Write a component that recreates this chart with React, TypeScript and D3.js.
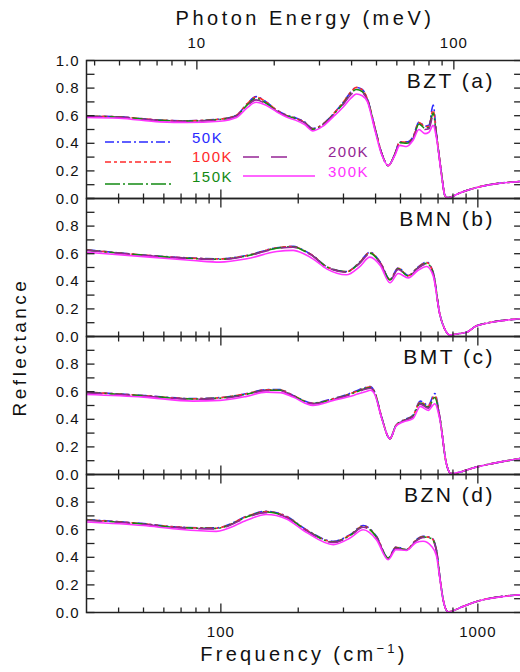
import React from 'react';
import * as d3 from 'd3';

// ---- data (frequency in cm^-1, reflectance 0..1) ----
const temps = ['50K', '100K', '150K', '200K', '300K'];
const tempColors = ['#2a2aff', '#ff2a2a', '#138a13', '#952595', '#ff33ff'];
const tempDash = ['9,3,2,3', '6,3,3,3', '15,3,2,3', '16,12', null];

const panelNames = ['BZT  (a)', 'BMN  (b)', 'BMT  (c)', 'BZN  (d)'];

const freqA = [30, 40, 58, 74, 99, 115, 127, 137, 150, 165, 180, 195, 212, 228, 250, 273, 300, 320, 337, 355, 372, 397, 422, 448, 475, 497, 528, 559, 590, 622, 645, 670, 690, 722, 745, 766, 850, 990, 1500];
const bzt50 = [0.597, 0.592, 0.568, 0.563, 0.575, 0.604, 0.69, 0.738, 0.70, 0.64, 0.604, 0.585, 0.555, 0.507, 0.54, 0.61, 0.70, 0.77, 0.805, 0.79, 0.72, 0.52, 0.33, 0.238, 0.32, 0.41, 0.41, 0.445, 0.555, 0.524, 0.53, 0.677, 0.47, 0.18, 0.02, 0.006, 0.04, 0.08, 0.125];
const bzt100 = [0.597, 0.592, 0.568, 0.563, 0.575, 0.604, 0.69, 0.735, 0.70, 0.64, 0.602, 0.582, 0.552, 0.505, 0.54, 0.61, 0.70, 0.77, 0.805, 0.788, 0.72, 0.52, 0.33, 0.238, 0.32, 0.41, 0.408, 0.44, 0.55, 0.52, 0.525, 0.64, 0.465, 0.18, 0.02, 0.006, 0.04, 0.08, 0.125];
const bzt150 = [0.595, 0.59, 0.566, 0.561, 0.572, 0.60, 0.68, 0.725, 0.69, 0.635, 0.60, 0.58, 0.55, 0.502, 0.535, 0.605, 0.69, 0.76, 0.79, 0.775, 0.715, 0.515, 0.33, 0.238, 0.32, 0.405, 0.40, 0.435, 0.54, 0.51, 0.515, 0.62, 0.46, 0.18, 0.02, 0.006, 0.04, 0.08, 0.125];
const bzt200 = [0.594, 0.589, 0.565, 0.56, 0.57, 0.598, 0.675, 0.715, 0.685, 0.632, 0.598, 0.578, 0.548, 0.50, 0.532, 0.60, 0.685, 0.75, 0.78, 0.768, 0.71, 0.51, 0.33, 0.238, 0.318, 0.40, 0.395, 0.43, 0.53, 0.50, 0.505, 0.60, 0.455, 0.18, 0.02, 0.006, 0.04, 0.08, 0.125];
const bzt300 = [0.587, 0.582, 0.555, 0.551, 0.56, 0.587, 0.66, 0.697, 0.675, 0.628, 0.59, 0.568, 0.535, 0.49, 0.525, 0.59, 0.665, 0.725, 0.757, 0.745, 0.70, 0.50, 0.32, 0.238, 0.31, 0.385, 0.377, 0.42, 0.50, 0.47, 0.48, 0.53, 0.44, 0.17, 0.02, 0.006, 0.04, 0.08, 0.125];

const freqB = [30, 53, 78, 99, 126, 165, 191, 210, 228, 258, 308, 347, 380, 417, 455, 490, 536, 584, 632, 670, 711, 745, 775, 850, 903, 990, 1500];
const bmn50 = [0.629, 0.587, 0.568, 0.563, 0.587, 0.643, 0.653, 0.625, 0.587, 0.507, 0.471, 0.539, 0.611, 0.539, 0.413, 0.498, 0.442, 0.502, 0.539, 0.466, 0.163, 0.05, 0.012, 0.022, 0.03, 0.078, 0.13];
const bmn100 = [0.628, 0.586, 0.567, 0.562, 0.586, 0.642, 0.652, 0.624, 0.586, 0.506, 0.47, 0.537, 0.608, 0.537, 0.412, 0.495, 0.44, 0.50, 0.535, 0.463, 0.163, 0.05, 0.012, 0.022, 0.03, 0.078, 0.13];
const bmn150 = [0.626, 0.585, 0.565, 0.56, 0.584, 0.64, 0.65, 0.622, 0.584, 0.504, 0.468, 0.534, 0.604, 0.534, 0.41, 0.49, 0.438, 0.497, 0.53, 0.46, 0.163, 0.05, 0.012, 0.022, 0.03, 0.078, 0.13];
const bmn200 = [0.625, 0.584, 0.564, 0.558, 0.582, 0.637, 0.647, 0.62, 0.582, 0.502, 0.466, 0.53, 0.60, 0.532, 0.408, 0.486, 0.436, 0.494, 0.526, 0.456, 0.162, 0.05, 0.012, 0.022, 0.03, 0.078, 0.13];
const bmn300 = [0.611, 0.575, 0.551, 0.539, 0.563, 0.616, 0.624, 0.60, 0.563, 0.49, 0.447, 0.507, 0.575, 0.514, 0.389, 0.456, 0.425, 0.478, 0.507, 0.44, 0.16, 0.05, 0.012, 0.022, 0.03, 0.078, 0.13];

const freqC = [30, 50, 78, 99, 126, 150, 170, 191, 228, 274, 328, 365, 382, 397, 422, 455, 480, 512, 559, 597, 641, 680, 711, 754, 786, 990, 1500];
const bmt50 = [0.597, 0.573, 0.55, 0.557, 0.586, 0.615, 0.615, 0.573, 0.518, 0.55, 0.597, 0.63, 0.638, 0.597, 0.417, 0.26, 0.356, 0.393, 0.429, 0.532, 0.501, 0.586, 0.417, 0.08, 0.007, 0.055, 0.12];
const bmt100 = [0.597, 0.572, 0.549, 0.556, 0.585, 0.614, 0.613, 0.572, 0.516, 0.548, 0.594, 0.627, 0.635, 0.595, 0.416, 0.26, 0.355, 0.391, 0.426, 0.525, 0.495, 0.572, 0.415, 0.08, 0.007, 0.055, 0.12];
const bmt150 = [0.595, 0.57, 0.547, 0.553, 0.582, 0.611, 0.61, 0.57, 0.514, 0.546, 0.59, 0.623, 0.63, 0.592, 0.415, 0.26, 0.354, 0.389, 0.422, 0.518, 0.488, 0.558, 0.413, 0.08, 0.007, 0.055, 0.12];
const bmt200 = [0.593, 0.568, 0.545, 0.55, 0.579, 0.608, 0.606, 0.568, 0.511, 0.544, 0.586, 0.618, 0.625, 0.589, 0.414, 0.26, 0.353, 0.387, 0.418, 0.51, 0.48, 0.545, 0.41, 0.08, 0.007, 0.055, 0.12];
const bmt300 = [0.58, 0.561, 0.532, 0.537, 0.566, 0.597, 0.593, 0.561, 0.501, 0.537, 0.573, 0.60, 0.61, 0.58, 0.41, 0.26, 0.35, 0.38, 0.405, 0.494, 0.465, 0.513, 0.40, 0.08, 0.007, 0.055, 0.12];

const freqD = [30, 50, 67, 96, 105, 126, 150, 180, 215, 274, 318, 358, 403, 448, 480, 528, 576, 612, 661, 690, 711, 733, 766, 876, 990, 1500];
const bzn50 = [0.673, 0.644, 0.62, 0.613, 0.63, 0.697, 0.733, 0.697, 0.60, 0.516, 0.564, 0.63, 0.552, 0.395, 0.475, 0.455, 0.528, 0.552, 0.54, 0.455, 0.261, 0.092, 0.005, 0.044, 0.08, 0.13];
const bzn100 = [0.672, 0.643, 0.619, 0.611, 0.628, 0.695, 0.731, 0.695, 0.598, 0.513, 0.561, 0.626, 0.55, 0.394, 0.472, 0.455, 0.526, 0.55, 0.538, 0.452, 0.26, 0.092, 0.005, 0.044, 0.08, 0.13];
const bzn150 = [0.67, 0.641, 0.617, 0.609, 0.625, 0.692, 0.728, 0.692, 0.596, 0.51, 0.558, 0.622, 0.547, 0.393, 0.469, 0.454, 0.523, 0.547, 0.535, 0.45, 0.258, 0.092, 0.005, 0.044, 0.08, 0.13];
const bzn200 = [0.668, 0.639, 0.615, 0.606, 0.622, 0.688, 0.724, 0.689, 0.593, 0.507, 0.554, 0.618, 0.544, 0.392, 0.466, 0.453, 0.52, 0.543, 0.53, 0.445, 0.257, 0.091, 0.005, 0.044, 0.08, 0.13];
const bzn300 = [0.656, 0.63, 0.605, 0.588, 0.605, 0.668, 0.71, 0.678, 0.581, 0.492, 0.54, 0.60, 0.528, 0.383, 0.455, 0.45, 0.508, 0.516, 0.479, 0.41, 0.25, 0.09, 0.005, 0.044, 0.08, 0.13];

const panelFreqs = [freqA, freqB, freqC, freqD];
const panelSeries = [
  [bzt50, bzt100, bzt150, bzt200, bzt300],
  [bmn50, bmn100, bmn150, bmn200, bmn300],
  [bmt50, bmt100, bmt150, bmt200, bmt300],
  [bzn50, bzn100, bzn150, bzn200, bzn300],
];

const cmTicks = [40, 50, 60, 70, 80, 90, 100, 200, 300, 400, 500, 600, 700, 800, 900, 1000];
const cmLabels = [100, 1000];
const meVTicks = [4, 5, 6, 7, 8, 9, 10, 20, 30, 40, 50, 60, 70, 80, 90, 100];
const meVLabels = [10, 100];
const CM_PER_MEV = 8.0655;

const FONT = "'Liberation Sans', Arial, sans-serif";
const AXIS = '#222';

export default function App() {
  const left = 86.5;
  const top = 60.5;
  const panelH = 138;
  const x = d3.scaleLog().domain([30, 1500]).range([left, 523.1]);
  const right = x.range()[1];
  const yTicks = d3.range(0, 1.01, 0.1);

  const panels = panelSeries.map((series, p) => {
    const y0 = top + p * panelH;
    const y = d3.scaleLinear().domain([0, 1]).range([y0 + panelH, y0]);
    const line = d3.line<[number, number]>()
      .x(d => x(d[0]))
      .y(d => y(d[1]))
      .curve(d3.curveMonotoneX);
    const fr = panelFreqs[p];
    const isMajor = (v: number) => v === 100 || v === 1000;
    const topTicks = p === 0 ? meVTicks.map(v => ({ v: v * CM_PER_MEV, major: v === 10 || v === 100 })) : cmTicks.map(v => ({ v, major: isMajor(v) }));
    return (
      <g key={p}>
        {series.map((vals, i) => (
          <path key={i}
            d={line(fr.map((f, k) => [f, vals[k]] as [number, number])) || ''}
            fill="none" stroke={tempColors[i]} strokeWidth={1.6}
            strokeDasharray={tempDash[i] || undefined} />
        ))}
        <rect x={left} y={y0} width={right - left} height={panelH} fill="none" stroke={AXIS} strokeWidth={1.5} />
        {yTicks.map((t, i) => (
          <g key={i}>
            <line x1={left} x2={left + 8} y1={y(t)} y2={y(t)} stroke={AXIS} strokeWidth={1.3} />
            <line x1={right - 9} x2={right} y1={y(t)} y2={y(t)} stroke={AXIS} strokeWidth={1.3} />
          </g>
        ))}
        {[0, 0.2, 0.4, 0.6, 0.8, 1.0].filter(t => p === 0 || t < 0.9).map(t => (
          <text key={t} x={79.5} y={y(t) + 5} textAnchor="end" fontFamily={FONT} fontSize={15} letterSpacing={1} fill="#111">{t.toFixed(1)}</text>
        ))}
        {cmTicks.map(v => (
          <line key={'b' + v} x1={x(v)} x2={x(v)} y1={y0 + panelH} y2={y0 + panelH - (isMajor(v) ? 9 : 5)} stroke={AXIS} strokeWidth={1.3} />
        ))}
        {topTicks.map(t => (
          <line key={'t' + t.v} x1={x(t.v)} x2={x(t.v)} y1={y0} y2={y0 + (t.major ? 9 : 5)} stroke={AXIS} strokeWidth={1.3} />
        ))}
        <text x={495} y={y0 + 27.5} textAnchor="end" fontFamily={FONT} fontSize={21} letterSpacing={2.5} fill="#111">{panelNames[p]}</text>
      </g>
    );
  });

  // legend inside panel (a)
  const legendRows = [
    { i: 0, x1: 105, x2: 173, ly: 142, tx: 192, ty: 143 },
    { i: 1, x1: 105, x2: 173, ly: 162, tx: 192, ty: 162 },
    { i: 2, x1: 105, x2: 173, ly: 184, tx: 192, ty: 182 },
    { i: 3, x1: 243, x2: 298, ly: 157, tx: 328, ty: 157 },
    { i: 4, x1: 243, x2: 315, ly: 176, tx: 328, ty: 177 },
  ];

  return (
    <svg width={520} height={672} style={{ position: 'absolute', left: 0, top: 0, background: '#fff' }}>
      <rect width={520} height={672} fill="#fff" />
      {panels}
      {legendRows.map(r => (
        <g key={r.i}>
          <line x1={r.x1} x2={r.x2} y1={r.ly} y2={r.ly} stroke={tempColors[r.i]} strokeWidth={1.5} strokeDasharray={tempDash[r.i] || undefined} />
          <text x={r.tx} y={r.ty} fontFamily={FONT} fontSize={15} letterSpacing={1.5} fill={tempColors[r.i]}>{temps[r.i]}</text>
        </g>
      ))}
      {meVLabels.map(v => (
        <text key={v} x={x(v * CM_PER_MEV)} y={48} textAnchor="middle" fontFamily={FONT} fontSize={15} letterSpacing={1} fill="#111">{v}</text>
      ))}
      {cmLabels.map(v => (
        <text key={v} x={x(v)} y={637} textAnchor="middle" fontFamily={FONT} fontSize={15} letterSpacing={1} fill="#111">{v}</text>
      ))}
      <text x={305} y={25} textAnchor="middle" fontFamily={FONT} fontSize={20} letterSpacing={3.5} fill="#111">Photon Energy (meV)</text>
      <text x={304} y={661} textAnchor="middle" fontFamily={FONT} fontSize={20} letterSpacing={3.3} fill="#111">
        Frequency (cm<tspan dy={-8} fontSize={13}>−1</tspan><tspan dy={8}>)</tspan>
      </text>
      <text transform="translate(26,347) rotate(-90)" textAnchor="middle" fontFamily={FONT} fontSize={19} letterSpacing={3.5} fill="#111">Reflectance</text>
    </svg>
  );
}
